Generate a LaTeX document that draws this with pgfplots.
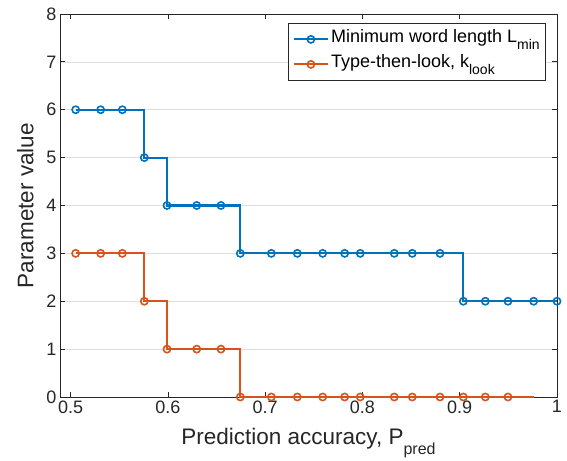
\documentclass[border=0pt]{standalone}
\usepackage{fontspec}
\setmainfont{Liberation Sans}
\usepackage{pgfplots}
\pgfplotsset{compat=1.18}
\definecolor{mblue}{rgb}{0,0.447,0.741}
\definecolor{morange}{rgb}{0.85,0.325,0.098}
\definecolor{axgray}{rgb}{0.15,0.15,0.15}
\begin{document}
\begin{tikzpicture}
\begin{axis}[
  width=497pt, height=383pt, scale only axis,
  xmin=0.489, xmax=1, ymin=0, ymax=8,
  xtick={0.5,0.6,0.7,0.8,0.9,1},
  xticklabels={0.5,0.6,0.7,0.8,0.9,1},
  ytick={0,1,2,3,4,5,6,7,8},
  ymajorgrids,
  grid style={color=black!12, line width=0.7pt},
  axis line style={axgray, line width=0.8pt},
  tick style={axgray, line width=0.8pt},
  major tick length=5pt,
  tick align=inside,
  tick pos=both,
  ticklabel style={font=\fontsize{18}{21}\selectfont, text=axgray},
  /pgf/number format/assume math mode=true,
  xlabel={Prediction accuracy, P\raisebox{-10pt}{\fontsize{16}{18}\selectfont pred}},
  ylabel={Parameter value},
  label style={font=\fontsize{22.5}{26}\selectfont, text=axgray},
  xlabel style={at={(axis description cs:0.5,-0.1253)}, anchor=base},
  ylabel style={at={(axis description cs:-0.0537,0.5)}, anchor=base},
  legend cell align=left,
  legend style={at={(axis description cs:0.978,0.9765)}, anchor=north east,
    draw=axgray, line width=0.8pt, fill=white,
    font=\fontsize{18}{21}\selectfont,
    inner xsep=4pt, inner ysep=4pt, row sep=1pt,
    nodes={inner xsep=2pt, inner ysep=1pt, text height=14pt, text depth=8pt}},
  legend image code/.code={\draw[mark repeat=2,mark phase=2,#1] plot coordinates {(0pt,0pt) (17pt,0pt) (34pt,0pt)};},
  every axis plot/.append style={line width=2.2pt, mark=o, mark size=3.6pt, mark options={solid, line width=1.6pt}},
  clip=false,
]
\addplot[mblue, const plot] coordinates {
(0.5051,6) (0.5308,6) (0.5531,6) (0.5757,5) (0.5990,4) (0.6296,4) (0.6545,4)
(0.6744,3) (0.7063,3) (0.7330,3) (0.7591,3) (0.7817,3) (0.7977,3) (0.8327,3) (0.8512,3) (0.8797,3)
(0.9037,2) (0.9263,2) (0.9496,2) (0.9760,2) (1.0000,2)
};
\addlegendentry{Minimum word length L\raisebox{-7.6pt}{\fontsize{14}{16}\selectfont min}}
\addplot[morange, const plot, mark=none, forget plot] coordinates {
(0.9496,0) (0.9760,0)
};
\addplot[morange, const plot] coordinates {
(0.5051,3) (0.5308,3) (0.5531,3) (0.5757,2) (0.5990,1) (0.6296,1) (0.6545,1)
(0.6744,0) (0.7063,0) (0.7330,0) (0.7591,0) (0.7817,0) (0.7977,0) (0.8327,0) (0.8512,0) (0.8797,0)
(0.9037,0) (0.9263,0) (0.9496,0)
};
\addlegendentry{Type-then-look, k\raisebox{-7.6pt}{\fontsize{14}{16}\selectfont look}}
\coordinate (sw) at (rel axis cs:0,0);
\coordinate (ne) at (rel axis cs:1,1);
\end{axis}
\path (sw) ++(-60pt,-64pt) coordinate (bba);
\path (ne) ++(10pt,14pt) coordinate (bbb);
\pgfresetboundingbox
\path[use as bounding box] (bba) rectangle (bbb);
\end{tikzpicture}
\end{document}
